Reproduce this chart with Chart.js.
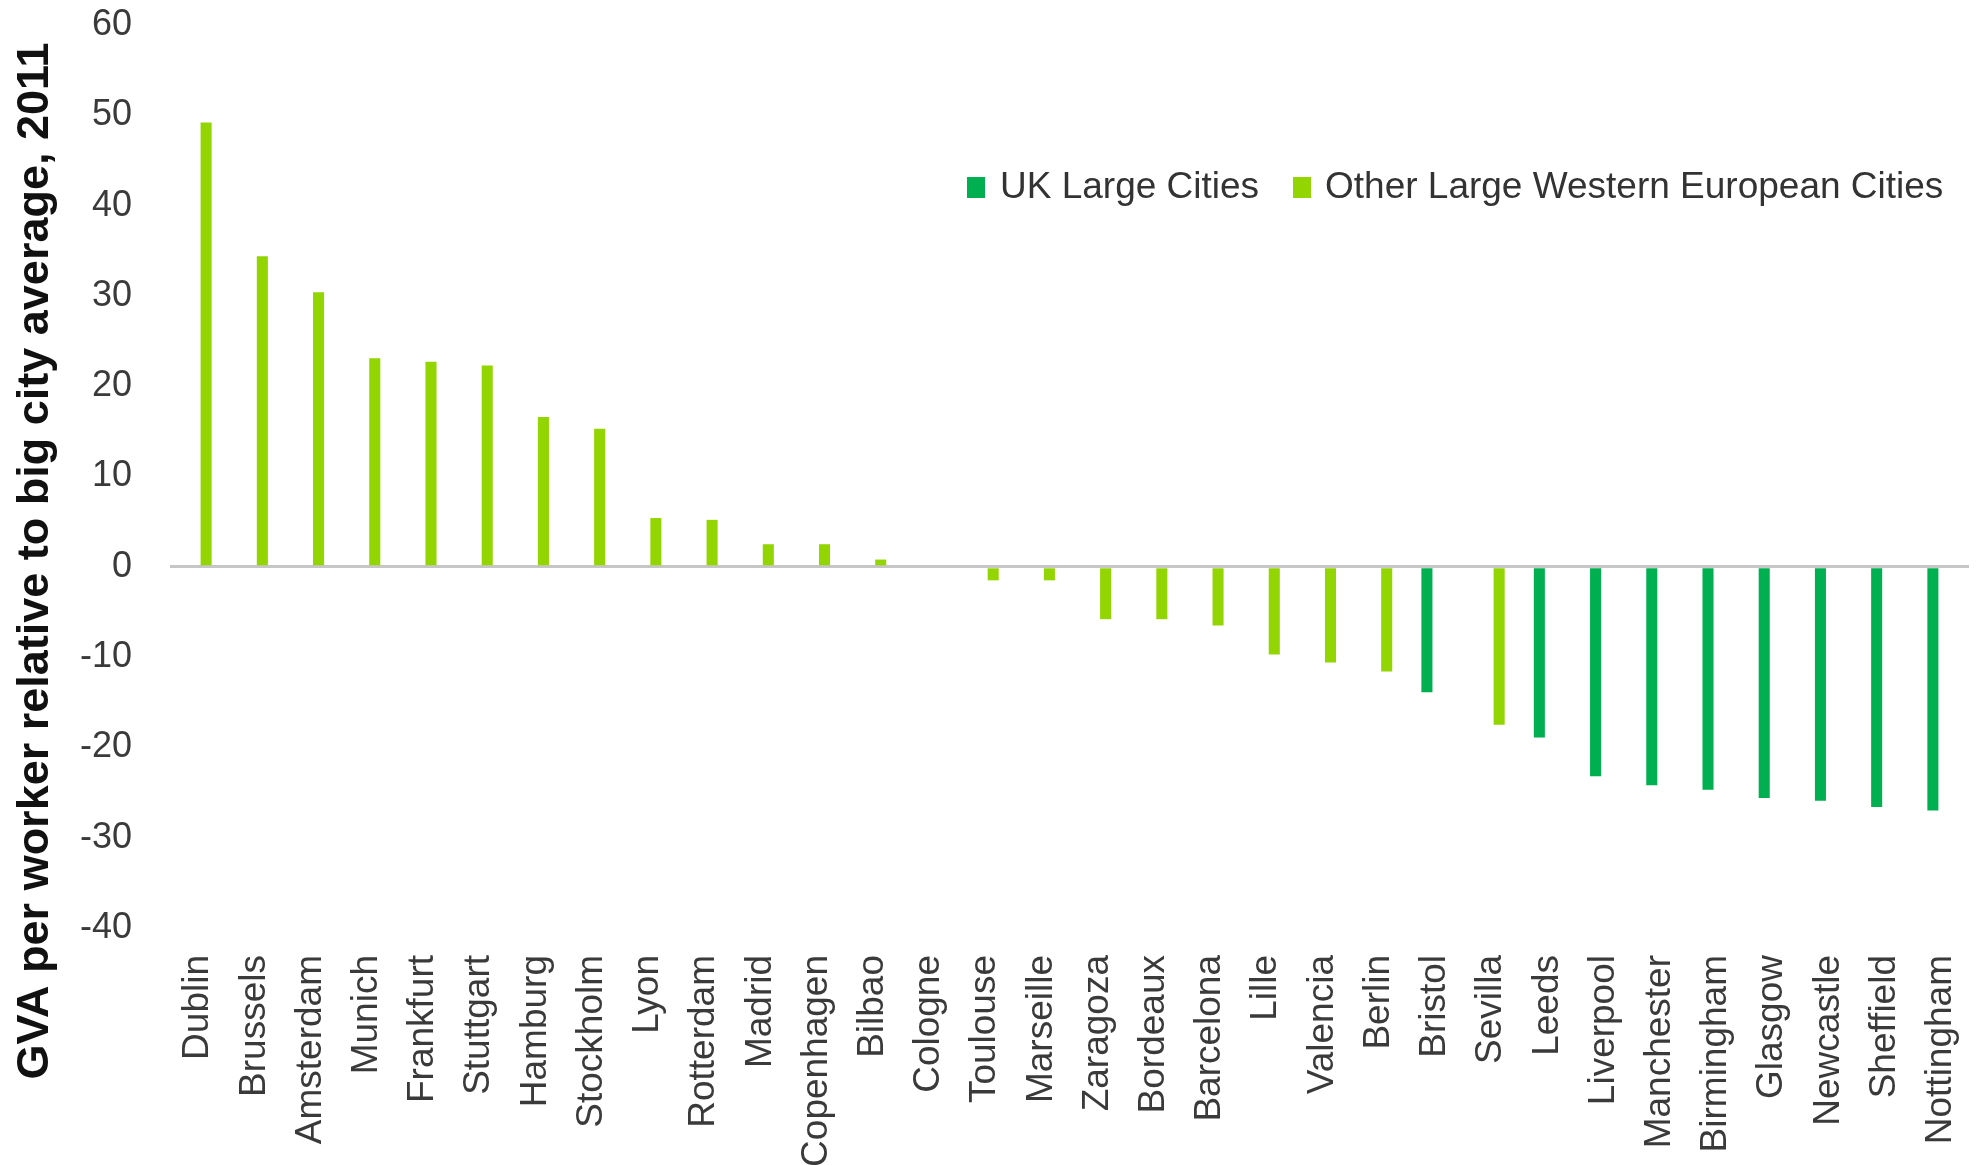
<!DOCTYPE html>
<html>
<head>
<meta charset="utf-8">
<title>GVA per worker</title>
<script src="https://cdn.jsdelivr.net/npm/chart.js@4.4.1/dist/chart.umd.min.js"></script>
<style>
	body { margin: 0; background: #fff; }
	#chart { display: block; }
</style>
</head>
<body>
<canvas id="chart" width="1978" height="1165"></canvas>
<script>
// 도시 목록
const cities = ['Dublin', 'Brussels', 'Amsterdam', 'Munich', 'Frankfurt', 'Stuttgart', 'Hamburg', 'Stockholm',
	'Lyon', 'Rotterdam', 'Madrid', 'Copenhagen', 'Bilbao', 'Cologne', 'Toulouse', 'Marseille', 'Zaragoza',
	'Bordeaux', 'Barcelona', 'Lille', 'Valencia', 'Berlin', 'Bristol', 'Sevilla', 'Leeds', 'Liverpool',
	'Manchester', 'Birmingham', 'Glasgow', 'Newcastle', 'Sheffield', 'Nottingham'];

// UK 도시 값 (나머지는 null)
const ukValues = [null, null, null, null, null, null, null, null,
	null, null, null, null, null, null, null, null, null,
	null, null, null, null, null, -13.9, null, -18.9, -23.2,
	-24.2, -24.7, -25.6, -25.9, -26.6, -27.0];

// 기타 서유럽 도시 값
const otherValues = [49.2, 34.4, 30.4, 23.1, 22.7, 22.3, 16.6, 15.3,
	5.4, 5.2, 2.5, 2.5, 0.8, 0, -1.5, -1.5, -5.8,
	-5.8, -6.5, -9.7, -10.6, -11.6, null, -17.5, null, null,
	null, null, null, null, null, null];

const seriesNames = ['UK Large Cities', 'Other Large Western European Cities'];
const seriesColors = ['#00b050', '#93d500'];
const yMin = -40;
const yMax = 60;
const yStep = 10;
const yTitle = 'GVA per worker relative to big city average, 2011';

document.addEventListener('DOMContentLoaded', function() {
	// 범례와 y축 제목은 직접 그림
	const extras = {
		id: 'extras',
		afterDraw: function(chart) {
			const ctx = chart.ctx;
			ctx.save();
			// y축 제목
			ctx.translate(36, 561);
			ctx.rotate(-Math.PI / 2);
			ctx.font = 'bold 45px "Liberation Sans", Arial, sans-serif';
			ctx.fillStyle = '#111';
			ctx.textAlign = 'center';
			ctx.textBaseline = 'middle';
			ctx.fillText(yTitle, 0, 0);
			ctx.restore();

			// 범례
			ctx.save();
			ctx.font = '37px "Liberation Sans", Arial, sans-serif';
			ctx.textBaseline = 'middle';
			ctx.textAlign = 'left';
			const boxX = [967, 1293];
			const textX = [1000, 1325];
			chart.data.datasets.forEach(function(ds, i) {
				ctx.fillStyle = ds.backgroundColor;
				ctx.fillRect(boxX[i], 177, 18, 21);
				ctx.fillStyle = '#333';
				ctx.fillText(ds.label, textX[i], 188);
			});
			ctx.restore();
		}
	};

	const ctx = document.getElementById('chart').getContext('2d');
	const chart = new Chart(ctx, {
		type: 'bar',
		data: {
			labels: cities,
			datasets: [
				{
					label: seriesNames[0],
					data: ukValues,
					backgroundColor: seriesColors[0],
					categoryPercentage: 0.57,
					barPercentage: 0.69
				},
				{
					label: seriesNames[1],
					data: otherValues,
					backgroundColor: seriesColors[1],
					categoryPercentage: 0.57,
					barPercentage: 0.69
				}
			]
		},
		options: {
			responsive: false,
			animation: false,
			layout: { padding: { top: 25, right: 9, left: 0, bottom: 0 } },
			plugins: {
				legend: { display: false },
				tooltip: { enabled: false }
			},
			scales: {
				x: {
					grid: { display: false, drawTicks: false },
					border: { display: false },
					ticks: {
						autoSkip: false,
						minRotation: 90,
						maxRotation: 90,
						padding: 27,
						color: '#3a3a3a',
						font: { family: '"Liberation Sans", Arial, sans-serif', size: 37 }
					},
					afterFit: function(scale) {
						scale.height = 237;
						scale.paddingLeft = 0;
						scale.paddingRight = 0;
					}
				},
				y: {
					min: yMin,
					max: yMax,
					border: { display: false },
					grid: {
						drawTicks: false,
						color: function(c) { return c.tick && c.tick.value === 0 ? '#c6c6c6' : 'rgba(0,0,0,0)'; },
						lineWidth: function(c) { return c.tick && c.tick.value === 0 ? 3 : 0; }
					},
					ticks: {
						stepSize: yStep,
						padding: 38,
						color: '#3a3a3a',
						font: { family: '"Liberation Sans", Arial, sans-serif', size: 36 }
					},
					afterFit: function(scale) {
						scale.width = 170;
						scale.paddingTop = 0;
						scale.paddingBottom = 0;
					}
				}
			}
		},
		plugins: [extras]
	});
	console.log(chart);
});
</script>
</body>
</html>
